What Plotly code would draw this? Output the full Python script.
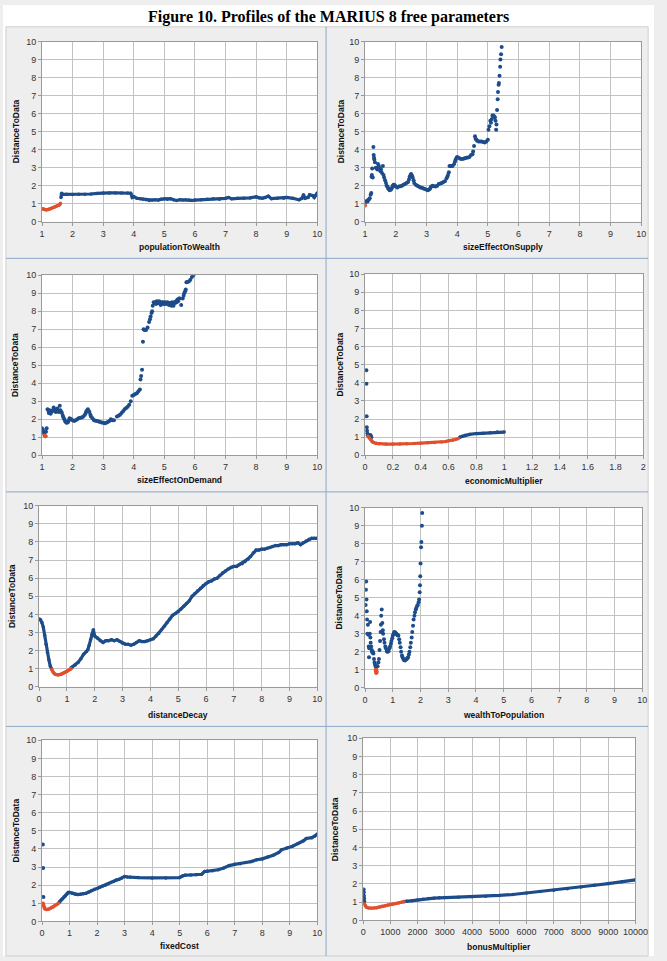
import plotly.graph_objects as go

W, H = 667, 961
BLUE = "#1d4c8a"
RED = "#e0502d"

# ---------------- data ----------------
# 1. populationToWealth
ptw_red_x = [1.00, 1.05, 1.10, 1.15, 1.20, 1.25, 1.30, 1.35, 1.40, 1.45, 1.50, 1.55, 1.58, 1.60]
ptw_red_y = [0.72, 0.70, 0.67, 0.66, 0.68, 0.71, 0.74, 0.77, 0.80, 0.84, 0.88, 0.92, 0.96, 1.02]
ptw_blue_x = [1.62, 1.64, 1.68, 1.8, 2.0, 2.2, 2.4, 2.6, 2.8, 3.0, 3.2, 3.4, 3.6, 3.8, 3.9, 3.95, 4.0,
              4.1, 4.2, 4.3, 4.4, 4.5, 4.6, 4.7, 4.8, 4.9, 5.0, 5.1, 5.2, 5.3, 5.4, 5.5, 5.6, 5.7,
              5.8, 5.9, 6.0, 6.2, 6.4, 6.6, 6.8, 7.0, 7.1, 7.2, 7.4, 7.6, 7.8, 8.0, 8.1, 8.2, 8.3,
              8.4, 8.5, 8.7, 8.9, 9.0, 9.2, 9.4, 9.5, 9.55, 9.6, 9.7, 9.75, 9.85, 9.9, 9.95, 10.0]
ptw_blue_y = [1.35, 1.58, 1.52, 1.52, 1.51, 1.52, 1.53, 1.54, 1.57, 1.60, 1.60, 1.60, 1.60, 1.60, 1.58, 1.35, 1.40,
              1.30, 1.28, 1.25, 1.22, 1.18, 1.20, 1.22, 1.20, 1.25, 1.27, 1.25, 1.28, 1.22, 1.18, 1.22, 1.20, 1.22,
              1.20, 1.18, 1.20, 1.22, 1.25, 1.27, 1.25, 1.30, 1.35, 1.27, 1.30, 1.30, 1.32, 1.38, 1.32, 1.30, 1.35,
              1.42, 1.28, 1.30, 1.30, 1.35, 1.30, 1.22, 1.30, 1.50, 1.30, 1.35, 1.50, 1.45, 1.35, 1.45, 1.60]

# 2. sizeEffectOnSupply
ses_red_x = [1.00]
ses_red_y = [0.90]
ses_blue_x = [1.02, 1.05, 1.08, 1.10, 1.13, 1.15, 1.18, 1.20, 1.21, 1.22, 1.23, 1.25, 1.27, 1.28, 1.29, 1.30,
              1.32, 1.35, 1.38, 1.40, 1.42, 1.45, 1.48, 1.50, 1.52, 1.55, 1.58, 1.60, 1.62, 1.65, 1.68, 1.70,
              1.73, 1.75, 1.78, 1.80, 1.83, 1.85, 1.88, 1.90, 1.93, 1.95, 1.98, 2.00, 2.05, 2.10, 2.15, 2.20,
              2.25, 2.30, 2.35, 2.40, 2.43, 2.45, 2.48, 2.50, 2.53, 2.55, 2.58, 2.60, 2.65, 2.70, 2.75, 2.80,
              2.85, 2.90, 2.95, 3.00, 3.05, 3.10, 3.13, 3.15, 3.20, 3.25, 3.30, 3.35, 3.40, 3.45, 3.50, 3.55,
              3.60, 3.65, 3.68, 3.70, 3.73, 3.75, 3.78, 3.80, 3.85, 3.90, 3.93, 3.95, 3.98, 4.00, 4.05, 4.10,
              4.15, 4.20, 4.25, 4.30, 4.35, 4.40, 4.45, 4.50, 4.52, 4.55, 4.58, 4.60, 4.63, 4.65, 4.70, 4.75,
              4.80, 4.85, 4.90, 4.95, 5.00, 5.02, 5.05, 5.08, 5.10, 5.13, 5.15, 5.18, 5.20, 5.23, 5.25, 5.27,
              5.28, 5.30, 5.32, 5.33, 5.35, 5.36, 5.38, 5.40, 5.41, 5.43, 5.45]
ses_blue_y = [1.10, 1.15, 1.12, 1.20, 1.25, 1.30, 1.50, 1.60, 2.50, 2.60, 2.95, 2.45, 4.15, 3.70, 3.55, 3.45,
              3.30, 3.00, 2.95, 2.90, 3.20, 3.10, 2.95, 2.80, 2.90, 2.70, 3.10, 2.60, 2.45, 2.30, 2.15, 2.00,
              1.95, 1.85, 1.80, 1.75, 1.78, 1.80, 1.90, 2.00, 2.05, 2.05, 1.98, 1.95, 1.90, 1.95, 1.97, 2.00,
              2.05, 2.10, 2.15, 2.20, 2.35, 2.50, 2.60, 2.65, 2.55, 2.45, 2.30, 2.15, 2.05, 2.00, 1.95, 1.90,
              1.88, 1.85, 1.82, 1.78, 1.75, 1.80, 1.88, 1.95, 2.00, 1.97, 1.95, 2.00, 2.10, 2.12, 2.15, 2.20,
              2.25, 2.40, 2.50, 2.60, 2.75, 3.10, 3.10, 3.10, 3.10, 3.20, 3.35, 3.45, 3.55, 3.60, 3.55, 3.50,
              3.48, 3.50, 3.52, 3.55, 3.57, 3.60, 3.70, 3.75, 3.90, 4.20, 4.75, 4.60, 4.55, 4.50, 4.45, 4.45,
              4.45, 4.42, 4.40, 4.45, 4.55, 5.10, 5.30, 5.60, 5.50, 5.70, 5.90, 5.90, 5.85, 5.80, 5.60, 5.10,
              5.40, 6.20, 6.80, 7.20, 7.60, 7.70, 8.10, 8.60, 9.00, 9.30, 9.70]

# 3. sizeEffectOnDemand
sed_red_x = [1.08, 1.10, 1.12]
sed_red_y = [1.10, 1.05, 1.05]
sed_blue_x = [1.00, 1.03, 1.05, 1.07, 1.13, 1.15, 1.18, 1.20, 1.22, 1.25, 1.28, 1.30, 1.33, 1.35, 1.38, 1.40,
              1.43, 1.45, 1.48, 1.50, 1.52, 1.55, 1.58, 1.60, 1.63, 1.65, 1.68, 1.70, 1.73, 1.75, 1.78, 1.80,
              1.83, 1.85, 1.88, 1.90, 1.93, 1.95, 2.00, 2.05, 2.10, 2.15, 2.20, 2.25, 2.30, 2.35, 2.40, 2.43,
              2.45, 2.48, 2.50, 2.53, 2.55, 2.58, 2.60, 2.65, 2.70, 2.75, 2.80, 2.85, 2.90, 2.95, 3.00, 3.05,
              3.10, 3.15, 3.20, 3.25, 3.30, 3.35, 3.45, 3.50, 3.55, 3.60, 3.65, 3.70, 3.75, 3.80, 3.85, 3.90,
              3.95, 4.00, 4.05, 4.10, 4.15, 4.20, 4.22, 4.24, 4.27, 4.30, 4.32, 4.35, 4.40, 4.45, 4.50, 4.53,
              4.55, 4.58, 4.60, 4.62, 4.65, 4.68, 4.70, 4.73, 4.75, 4.78, 4.80, 4.83, 4.85, 4.88, 4.90, 4.93,
              4.95, 4.98, 5.00, 5.03, 5.05, 5.08, 5.10, 5.13, 5.15, 5.18, 5.20, 5.23, 5.25, 5.28, 5.30, 5.33,
              5.35, 5.38, 5.40, 5.43, 5.45, 5.48, 5.50, 5.55, 5.60, 5.63, 5.65, 5.68, 5.70, 5.72, 5.75, 5.80,
              5.85, 5.90, 5.95]
sed_blue_y = [1.50, 1.40, 1.30, 1.20, 1.30, 1.50, 2.55, 2.50, 2.35, 2.50, 2.30, 2.40, 2.45, 2.50, 2.65, 2.55,
              2.45, 2.40, 2.50, 2.60, 2.45, 2.40, 2.75, 2.50, 2.40, 2.35, 2.20, 2.10, 2.00, 1.90, 1.85, 1.80,
              1.82, 1.85, 1.95, 2.05, 2.02, 2.00, 1.95, 1.90, 1.95, 2.00, 2.05, 2.08, 2.10, 2.15, 2.25, 2.35,
              2.45, 2.50, 2.55, 2.45, 2.40, 2.25, 2.15, 2.05, 1.95, 1.92, 1.90, 1.88, 1.85, 1.82, 1.80, 1.78,
              1.80, 1.85, 1.90, 2.00, 1.95, 1.95, 2.15, 2.20, 2.25, 2.35, 2.45, 2.55, 2.62, 2.70, 2.80, 3.00,
              3.30, 3.35, 3.40, 3.45, 3.55, 3.65, 4.20, 4.40, 4.75, 6.30, 7.00, 6.95, 6.95, 7.10, 7.40, 7.55,
              7.70, 7.90, 8.00, 8.30, 8.50, 8.45, 8.50, 8.40, 8.55, 8.45, 8.45, 8.55, 8.50, 8.35, 8.40, 8.50,
              8.50, 8.40, 8.45, 8.50, 8.40, 8.45, 8.50, 8.40, 8.35, 8.45, 8.45, 8.30, 8.50, 8.40, 8.30, 8.50,
              8.45, 8.55, 8.50, 8.65, 8.55, 8.70, 8.70, 8.35, 8.70, 8.85, 9.00, 9.10, 9.20, 9.60, 9.62, 9.65,
              9.75, 9.90, 10.00]

# 4. economicMultiplier
em_blue_a_x = [0.009, 0.010, 0.011, 0.012, 0.014, 0.016, 0.020, 0.025, 0.030, 0.035, 0.040, 0.045]
em_blue_a_y = [4.70, 3.95, 2.15, 1.55, 1.35, 1.20, 1.10, 1.10, 1.05, 1.12, 1.10, 1.00]
em_red_x = [0.02, 0.03, 0.04, 0.05, 0.06, 0.08, 0.10, 0.15, 0.20, 0.25, 0.30, 0.35, 0.40, 0.45, 0.50,
            0.55, 0.58, 0.60, 0.63, 0.65, 0.67]
em_red_y = [1.05, 0.95, 0.85, 0.75, 0.70, 0.66, 0.64, 0.62, 0.62, 0.62, 0.63, 0.65, 0.67, 0.69, 0.71,
            0.73, 0.76, 0.80, 0.83, 0.87, 0.93]
em_blue_b_x = [0.68, 0.70, 0.72, 0.75, 0.80, 0.85, 0.90, 0.95, 1.00]
em_blue_b_y = [1.00, 1.05, 1.10, 1.15, 1.20, 1.22, 1.25, 1.28, 1.28]

# 5. distanceDecay
dd_blue_a_x = [0.00, 0.05, 0.10, 0.15, 0.20, 0.25, 0.30, 0.35, 0.40, 0.45]
dd_blue_a_y = [3.75, 3.70, 3.55, 3.30, 2.85, 2.35, 1.90, 1.50, 1.15, 0.98]
dd_red_x = [0.45, 0.50, 0.55, 0.60, 0.65, 0.70, 0.75, 0.80, 0.85, 0.90, 0.95, 1.00, 1.05, 1.10, 1.15]
dd_red_y = [0.95, 0.82, 0.72, 0.68, 0.66, 0.66, 0.68, 0.70, 0.74, 0.78, 0.82, 0.86, 0.90, 0.95, 1.00]
dd_blue_b_x = [1.15, 1.2, 1.3, 1.4, 1.5, 1.6, 1.7, 1.75, 1.8, 1.85, 1.9, 1.95, 2.0, 2.1, 2.2, 2.3, 2.4, 2.5,
               2.6, 2.7, 2.8, 2.9, 3.0, 3.1, 3.2, 3.3, 3.4, 3.5, 3.6, 3.7, 3.8, 3.9, 4.0, 4.1, 4.2, 4.3,
               4.4, 4.5, 4.6, 4.7, 4.8, 4.9, 5.0, 5.1, 5.2, 5.3, 5.4, 5.5, 5.6, 5.7, 5.8, 5.9, 6.0, 6.1,
               6.2, 6.3, 6.4, 6.5, 6.6, 6.7, 6.8, 6.9, 7.0, 7.1, 7.2, 7.3, 7.4, 7.5, 7.6, 7.7, 7.8, 7.9,
               8.0, 8.1, 8.2, 8.3, 8.4, 8.5, 8.6, 8.7, 8.8, 8.9, 9.0, 9.1, 9.2, 9.3, 9.4, 9.5, 9.6, 9.7,
               9.8, 9.9, 10.0]
dd_blue_b_y = [1.05, 1.10, 1.20, 1.35, 1.55, 1.80, 1.95, 2.05, 2.30, 2.60, 2.90, 3.15, 2.80, 2.70, 2.55, 2.45,
               2.55, 2.55, 2.60, 2.55, 2.60, 2.50, 2.40, 2.35, 2.35, 2.30, 2.35, 2.45, 2.55, 2.50, 2.50, 2.55,
               2.60, 2.65, 2.80, 2.95, 3.15, 3.35, 3.55, 3.75, 3.95, 4.05, 4.15, 4.30, 4.45, 4.60, 4.75, 5.00,
               5.15, 5.30, 5.45, 5.60, 5.70, 5.80, 5.85, 5.95, 6.00, 6.15, 6.30, 6.40, 6.50, 6.60, 6.65, 6.65,
               6.75, 6.80, 6.90, 7.05, 7.20, 7.40, 7.55, 7.55, 7.60, 7.60, 7.65, 7.70, 7.75, 7.80, 7.80, 7.85,
               7.85, 7.85, 7.90, 7.90, 7.90, 7.95, 7.85, 7.95, 8.05, 8.15, 8.20, 8.20, 8.20]

# 6. wealthToPopulation
wtp_red_x = [0.38, 0.39, 0.40, 0.41, 0.42]
wtp_red_y = [1.00, 0.90, 0.82, 0.95, 0.88]
wtp_blue_x = [0.02, 0.03, 0.04, 0.05, 0.06, 0.07, 0.08, 0.10, 0.12, 0.13, 0.14, 0.15, 0.17, 0.18, 0.19, 0.20,
              0.22, 0.24, 0.25, 0.27, 0.28, 0.30, 0.32, 0.34, 0.36, 0.38, 0.40, 0.43, 0.45, 0.48, 0.50, 0.52,
              0.54, 0.56, 0.57, 0.58, 0.60, 0.62, 0.64, 0.65, 0.68, 0.70, 0.73, 0.75, 0.78, 0.80, 0.83, 0.85,
              0.88, 0.90, 0.93, 0.95, 0.98, 1.00, 1.03, 1.05, 1.08, 1.10, 1.13, 1.15, 1.18, 1.20, 1.23, 1.25,
              1.28, 1.30, 1.33, 1.35, 1.38, 1.40, 1.43, 1.45, 1.48, 1.50, 1.53, 1.55, 1.58, 1.60, 1.63, 1.65,
              1.68, 1.70, 1.73, 1.75, 1.78, 1.80, 1.83, 1.85, 1.88, 1.90, 1.93, 1.95, 1.97, 1.98, 1.99, 2.00,
              2.02, 2.03, 2.05, 2.06]
wtp_blue_y = [4.60, 5.45, 5.90, 4.90, 4.25, 3.80, 3.00, 3.50, 2.95, 2.30, 1.70, 2.20, 3.00, 3.65, 2.80, 2.50,
              2.30, 2.10, 2.00, 1.95, 2.00, 1.90, 1.60, 1.40, 1.30, 1.20, 1.15, 1.18, 1.20, 1.40, 1.60, 2.10,
              2.60, 3.10, 3.50, 4.00, 4.35, 3.60, 3.20, 3.00, 2.70, 2.50, 2.30, 2.20, 2.05, 2.00, 2.02, 2.05,
              2.20, 2.30, 2.45, 2.60, 2.75, 2.90, 3.00, 3.10, 3.08, 3.05, 3.00, 2.95, 2.92, 2.90, 2.70, 2.50,
              2.25, 2.00, 1.80, 1.70, 1.60, 1.55, 1.52, 1.55, 1.57, 1.60, 1.65, 1.70, 1.85, 2.00, 2.25, 2.50,
              2.80, 3.10, 3.45, 3.80, 4.00, 4.20, 4.35, 4.45, 4.55, 4.60, 4.75, 4.90, 5.30, 5.70, 6.20, 6.90,
              7.80, 8.10, 9.00, 9.70]

# 7. fixedCost
fc_blue_a_x = [0.03, 0.04, 0.05]
fc_blue_a_y = [4.25, 2.95, 1.35]
fc_red_x = [0.04, 0.06, 0.08, 0.10, 0.15, 0.20, 0.25, 0.30, 0.35, 0.40, 0.45, 0.50, 0.55, 0.60]
fc_red_y = [1.00, 0.85, 0.75, 0.70, 0.66, 0.65, 0.68, 0.72, 0.76, 0.80, 0.85, 0.90, 0.95, 1.00]
fc_blue_b_x = [0.62, 0.65, 0.7, 0.75, 0.8, 0.85, 0.9, 0.95, 1.0, 1.1, 1.2, 1.3, 1.4, 1.5, 1.6, 1.7, 1.8, 1.9,
               2.0, 2.1, 2.2, 2.3, 2.4, 2.5, 2.6, 2.7, 2.8, 2.9, 3.0, 3.1, 3.2, 3.5, 4.0, 4.5, 5.0, 5.1,
               5.2, 5.4, 5.6, 5.8, 5.9, 6.0, 6.2, 6.4, 6.6, 6.8, 7.0, 7.2, 7.4, 7.6, 7.8, 8.0, 8.2, 8.4,
               8.6, 8.7, 8.9, 9.1, 9.3, 9.5, 9.6, 9.8, 9.9, 10.0]
fc_blue_b_y = [1.05, 1.10, 1.20, 1.25, 1.35, 1.40, 1.50, 1.60, 1.60, 1.55, 1.50, 1.48, 1.50, 1.52, 1.55, 1.62,
               1.70, 1.78, 1.82, 1.88, 1.95, 2.00, 2.08, 2.15, 2.20, 2.28, 2.32, 2.40, 2.48, 2.45, 2.45, 2.42,
               2.40, 2.40, 2.42, 2.50, 2.55, 2.56, 2.58, 2.60, 2.75, 2.77, 2.80, 2.85, 2.95, 3.08, 3.15, 3.18,
               3.25, 3.30, 3.40, 3.45, 3.55, 3.65, 3.80, 3.95, 4.05, 4.15, 4.30, 4.45, 4.58, 4.62, 4.70, 4.82]

# 8. bonusMultiplier
bm_blue_a_x = [20, 25, 30, 35, 40]
bm_blue_a_y = [1.70, 1.55, 1.35, 1.20, 1.05]
bm_red_x = [50, 80, 120, 200, 300, 400, 500, 600, 700, 800, 900, 1000, 1100, 1200, 1300, 1400, 1500]
bm_red_y = [0.90, 0.80, 0.72, 0.68, 0.67, 0.68, 0.70, 0.73, 0.77, 0.81, 0.85, 0.88, 0.90, 0.93, 0.96,
            0.99, 1.02]
bm_blue_b_x = [1500, 1600, 1800, 2000, 2200, 2400, 2600, 2800, 3000, 3500, 4000, 4500, 5000, 5500, 6000,
               6500, 7000, 7500, 8000, 8500, 9000, 9500, 10000]
bm_blue_b_y = [1.03, 1.05, 1.08, 1.12, 1.16, 1.20, 1.22, 1.24, 1.25, 1.27, 1.30, 1.32, 1.37, 1.42, 1.50,
               1.58, 1.65, 1.73, 1.83, 1.93, 2.02, 2.12, 2.22]

x_titles = ["populationToWealth", "sizeEffectOnSupply", "sizeEffectOnDemand", "economicMultiplier",
            "distanceDecay", "wealthToPopulation", "fixedCost", "bonusMultiplier"]
y_title = "DistanceToData"
fig_title = "Figure 10. Profiles of the MARIUS 8 free parameters"

# ---------------- layout geometry (pixels) ----------------
panels = [
    dict(box=(40, 37, 322, 219), xr=[1, 10], dt=1, xty=245, ytx=13,
         series=[(ptw_blue_x, ptw_blue_y, BLUE, "lines"), (ptw_red_x, ptw_red_y, RED, "lines")]),
    dict(box=(371, 37, 654, 219), xr=[1, 10], dt=1, xty=245, ytx=346,
         series=[(ses_blue_x, ses_blue_y, BLUE, "markers"), (ses_red_x, ses_red_y, RED, "markers")]),
    dict(box=(40, 273, 322, 455), xr=[1, 10], dt=1, xty=480, ytx=13,
         series=[(sed_blue_x, sed_blue_y, BLUE, "markers"), (sed_red_x, sed_red_y, RED, "markers")]),
    dict(box=(371, 272, 656, 455), xr=[0, 2], dt=0.2, xty=481, ytx=345,
         series=[(em_blue_a_x, em_blue_a_y, BLUE, "markers"), (em_blue_b_x, em_blue_b_y, BLUE, "lines"),
                 (em_red_x, em_red_y, RED, "lines")]),
    dict(box=(37, 506, 322, 689), xr=[0, 10], dt=1, xty=717, ytx=10,
         series=[(dd_blue_a_x, dd_blue_a_y, BLUE, "lines"), (dd_blue_b_x, dd_blue_b_y, BLUE, "lines"),
                 (dd_red_x, dd_red_y, RED, "lines")]),
    dict(box=(371, 508, 655, 690), xr=[0, 10], dt=1, xty=717, ytx=344,
         series=[(wtp_blue_x, wtp_blue_y, BLUE, "markers"), (wtp_red_x, wtp_red_y, RED, "markers")]),
    dict(box=(40, 743, 322, 926), xr=[0, 10], dt=1, xty=951, ytx=13,
         series=[(fc_blue_a_x, fc_blue_a_y, BLUE, "markers"), (fc_blue_b_x, fc_blue_b_y, BLUE, "lines"),
                 (fc_red_x, fc_red_y, RED, "lines")]),
    dict(box=(369, 741, 648, 925), xr=[0, 10000], dt=1000, xty=952, ytx=340,
         series=[(bm_blue_a_x, bm_blue_a_y, BLUE, "markers"), (bm_blue_b_x, bm_blue_b_y, BLUE, "lines"),
                 (bm_red_x, bm_red_y, RED, "lines")]),
]


def px(x):
    return x / W


def py(y):
    return 1 - y / H


TICK_FONT = dict(family="Liberation Sans, Arial, sans-serif", size=9, color="#333333")
TITLE_FONT = dict(family="Liberation Sans, Arial, sans-serif", size=8.5, color="#111111")

fig = go.Figure()
layout = dict(width=W, height=H, margin=dict(l=0, r=0, t=0, b=0), autosize=False,
              paper_bgcolor="#eeeeee", plot_bgcolor="white", showlegend=False)
annotations = []
shapes = []

# white surround outside the panel block (title band, thin side strips)
for (x0, y0, x1, y1) in [(0, 0, W, 22), (0, 0, 3, H), (661, 0, W, H)]:
    shapes.append(dict(type="rect", xref="paper", yref="paper", x0=px(x0), x1=px(x1), y0=py(y1), y1=py(y0),
                       fillcolor="white", line=dict(width=0), layer="below"))
shapes.append(dict(type="rect", xref="paper", yref="paper", x0=px(3), x1=px(661), y0=py(H), y1=py(22),
                   fillcolor="rgba(0,0,0,0)", line=dict(color="#cfcfcf", width=1), layer="below"))
sep = "#8da6c9"
shapes.append(dict(type="line", xref="paper", yref="paper", x0=px(331), x1=px(331), y0=py(H), y1=py(22),
                   line=dict(color=sep, width=1), layer="below"))
for yy in (256, 492, 729):
    shapes.append(dict(type="line", xref="paper", yref="paper", x0=px(3), x1=px(661), y0=py(yy), y1=py(yy),
                       line=dict(color=sep, width=1), layer="below"))

for i, p in enumerate(panels):
    k = "" if i == 0 else str(i + 1)
    l, t, r, b = p["box"]
    common = dict(showgrid=True, gridcolor="#c2c2c2", gridwidth=1,
                  showline=True, mirror=True, linecolor="#9a9a9a", linewidth=1,
                  ticks="outside", ticklen=3, tickcolor="#9a9a9a", zeroline=False,
                  tickfont=TICK_FONT, fixedrange=True)
    layout["xaxis" + k] = dict(domain=[px(l), px(r)], range=p["xr"], dtick=p["dt"], tick0=0,
                               anchor="y" + k, tickformat="d" if p["dt"] >= 1 else None, **common)
    layout["yaxis" + k] = dict(domain=[py(b), py(t)], range=[0, 10], dtick=1, tick0=0,
                               anchor="x" + k, **common)
    for xs, ys, col, mode in p["series"]:
        if mode == "lines":
            fig.add_trace(go.Scatter(x=xs, y=ys, mode="lines+markers", xaxis="x" + k, yaxis="y" + k,
                                     line=dict(color=col, width=3.2), marker=dict(color=col, size=3.5),
                                     hoverinfo="skip"))
        else:
            fig.add_trace(go.Scatter(x=xs, y=ys, mode="markers", xaxis="x" + k, yaxis="y" + k,
                                     marker=dict(color=col, size=4), hoverinfo="skip"))
    annotations.append(dict(text="<b>%s</b>" % x_titles[i], xref="paper", yref="paper",
                            x=px((l + r) / 2), y=py(p["xty"]), xanchor="center", yanchor="middle",
                            showarrow=False, font=TITLE_FONT))
    annotations.append(dict(text="<b>%s</b>" % y_title, xref="paper", yref="paper",
                            x=px(p["ytx"]), y=py((t + b) / 2), xanchor="center", yanchor="middle",
                            textangle=-90, showarrow=False, font=TITLE_FONT))

annotations.append(dict(text="<b>%s</b>" % fig_title, xref="paper", yref="paper", x=px(334), y=py(12),
                        xanchor="center", yanchor="middle", showarrow=False,
                        font=dict(family="Liberation Serif, Times New Roman, serif", size=16, color="black")))

layout["annotations"] = annotations
layout["shapes"] = shapes
fig.update_layout(**layout)
fig.write_html("out.html", config={"displayModeBar": False})
